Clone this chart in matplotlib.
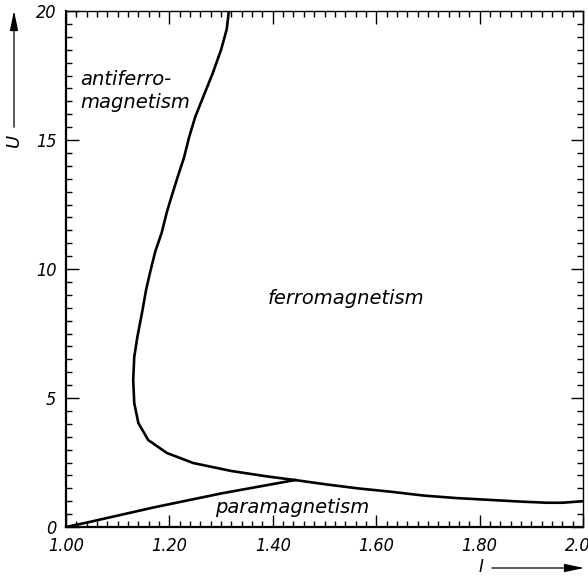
import matplotlib.pyplot as plt
import numpy as np
from matplotlib.ticker import MultipleLocator, FormatStrFormatter

# phase boundary between antiferro- and ferromagnetism (top down, then to the right)
ferro_x = [1.315, 1.311, 1.300, 1.284, 1.266, 1.250, 1.238, 1.228, 1.216, 1.204,
           1.195, 1.185, 1.173, 1.163, 1.155, 1.147, 1.138, 1.132, 1.130, 1.132,
           1.140, 1.159, 1.195, 1.246, 1.320, 1.389, 1.443, 1.500, 1.563, 1.627,
           1.691, 1.756, 1.820, 1.884, 1.930, 1.960, 2.000]
ferro_u = [20.0, 19.3, 18.5, 17.6, 16.7, 15.9, 15.1, 14.3, 13.57, 12.8,
           12.2, 11.4, 10.7, 9.9, 9.2, 8.3, 7.36, 6.59, 5.70, 4.8,
           4.03, 3.37, 2.87, 2.48, 2.17, 1.96, 1.82, 1.66, 1.50, 1.37,
           1.22, 1.12, 1.05, 0.98, 0.94, 0.94, 1.00]

# paramagnetic boundary
para_x = [1.00, 1.04, 1.17, 1.30, 1.443]
para_u = [0.0, 0.17, 0.76, 1.30, 1.82]

fnt = dict(family='DejaVu Sans', style='italic')
tickfnt = dict(family='DejaVu Sans', style='italic', stretch='condensed', size=13)

fig = plt.figure(figsize=(5.88, 5.77), dpi=100)
ax = fig.add_axes([66/588, 50/577, 517/588, 516/577])

ax.plot(ferro_x, ferro_u, color='black', lw=1.9, solid_joinstyle='round')
ax.plot(para_x, para_u, color='black', lw=1.9, solid_joinstyle='round')

ax.set_xlim(1.0, 2.0)
ax.set_ylim(0, 20)
ax.xaxis.set_major_locator(MultipleLocator(0.2))
ax.xaxis.set_minor_locator(MultipleLocator(0.02))
ax.yaxis.set_major_locator(MultipleLocator(5))
ax.yaxis.set_minor_locator(MultipleLocator(0.5))
ax.xaxis.set_major_formatter(FormatStrFormatter('%.2f'))

ax.tick_params(which='both', direction='in', top=True, right=True, width=1.0)
ax.tick_params(which='major', length=9, pad=7)
ax.tick_params(which='minor', length=4.5)
for lab in ax.get_xticklabels() + ax.get_yticklabels():
    lab.set_fontproperties(tickfnt)

ax.spines['left'].set_linewidth(1.6)
ax.spines['bottom'].set_linewidth(1.6)
ax.spines['top'].set_linewidth(1.0)
ax.spines['right'].set_linewidth(1.0)

ax.text(1.027, 16.9, 'antiferro-\nmagnetism', fontsize=14, linespacing=1.25,
        va='center', ha='left', **fnt)
ax.text(1.39, 8.87, 'ferromagnetism', fontsize=14, va='center', ha='left', **fnt)
ax.text(1.289, 0.74, 'paramagnetism', fontsize=14, va='center', ha='left', **fnt)

# axis labels with arrows
fig.text(14/588, 1 - 140/577, 'U', rotation=90, fontsize=13, ha='center', va='center', **fnt)
fig.text(481/588, 1 - 567/577, 'I', fontsize=12, ha='center', va='center', **fnt)
arrow = dict(arrowstyle='-|>,head_length=1.2,head_width=0.25', color='black', lw=0.9)
ax.annotate('', xy=(14/588, 1 - 8/577), xytext=(14/588, 1 - 130/577),
            xycoords='figure fraction', textcoords='figure fraction', arrowprops=arrow)
ax.annotate('', xy=(587/588, 1 - 568/577), xytext=(489/588, 1 - 568/577),
            xycoords='figure fraction', textcoords='figure fraction', arrowprops=arrow)

plt.savefig('out.png', dpi=100)
